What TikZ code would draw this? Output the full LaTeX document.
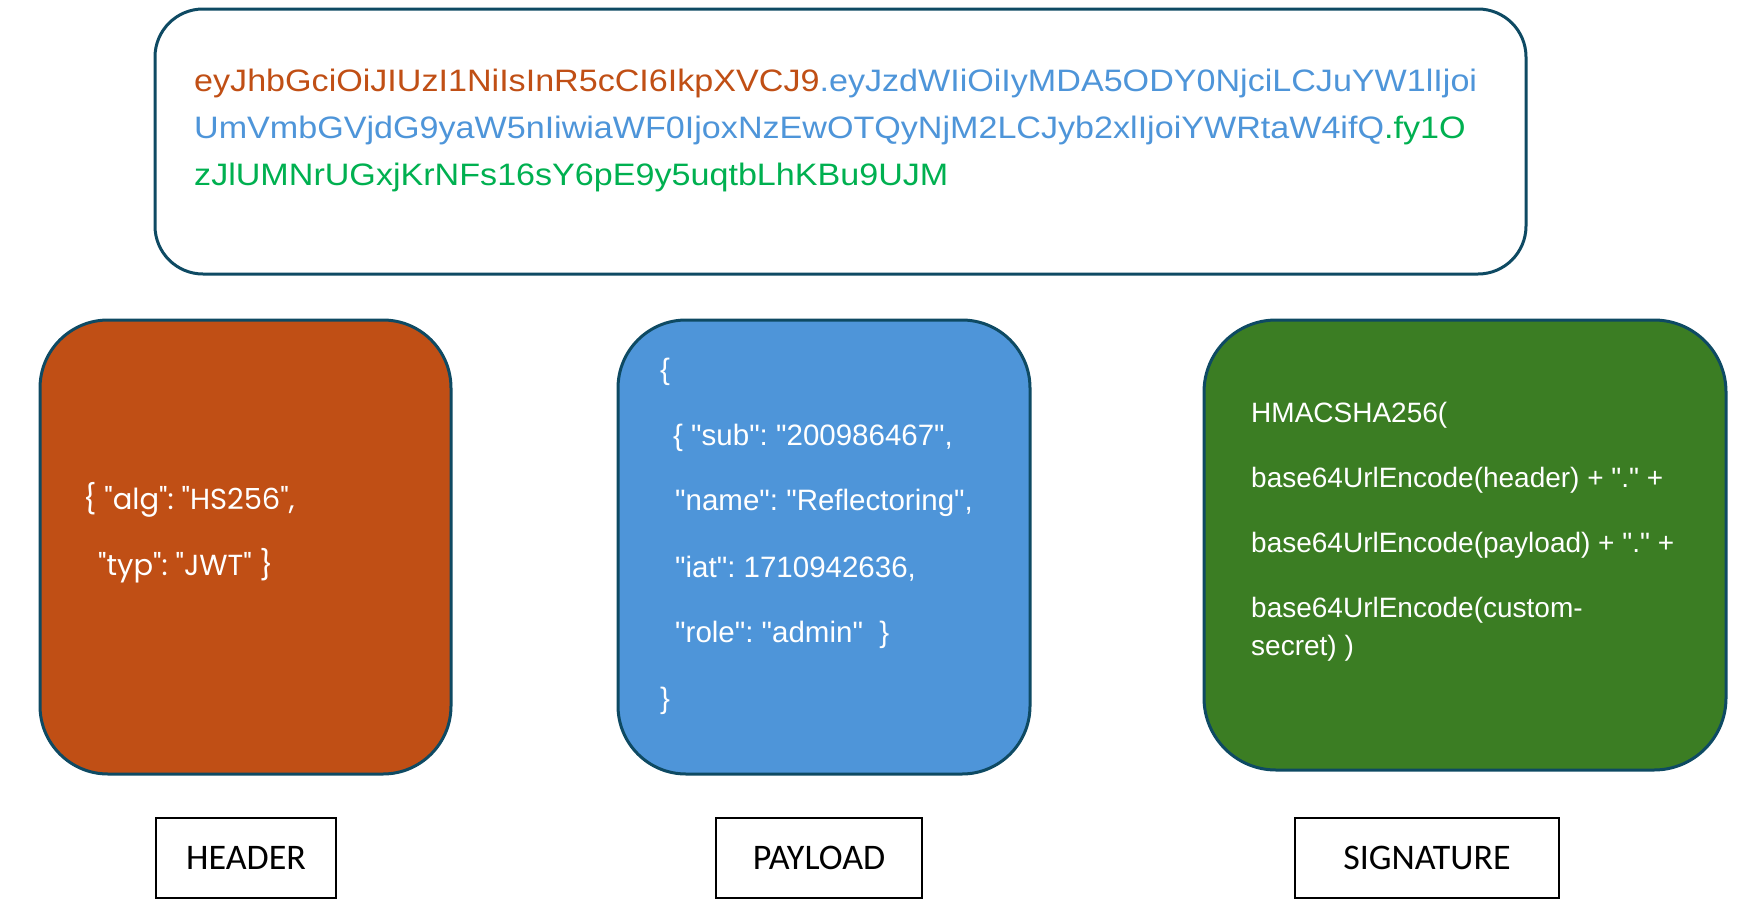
\documentclass[tikz,border=0pt]{standalone}
\usepackage{fontspec}
\setmainfont{Liberation Sans}[Ligatures=TeXOff]
\newfontfamily\labelfont{Carlito}
\newfontfamily\jsonfont{Poppins}
\newfontfamily\tokenfont{Liberation Sans}[FakeStretch=1.1]
\usetikzlibrary{positioning}
\frenchspacing

\definecolor{boxline}{HTML}{0E4A63}
\definecolor{hdrcol}{HTML}{C04F15}
\definecolor{paycol}{HTML}{4E95D9}
\definecolor{sigcol}{HTML}{3B7D23}
\definecolor{sigtext}{HTML}{00B050}

\tikzset{
  part/.style={draw=boxline, line width=3pt, inner sep=0pt},
  lbl/.style={draw=black, line width=1.5pt, inner sep=0pt,
              font=\labelfont\fontsize{36}{40}\selectfont},
  line/.style={anchor=base west, inner sep=0pt, text=white,
               font=\fontsize{29.5}{34}\selectfont},
  token/.style={anchor=base west, inner sep=0pt,
                font=\tokenfont\fontsize{31}{36}\selectfont},
}

\begin{document}
\begin{tikzpicture}[x=1pt,y=-1pt]
  \useasboundingbox (0,0) rectangle (1764,910);

  % encoded token
  \node[part, rounded corners=48pt, minimum width=1371pt, minimum height=265pt] (jwt) at (840.5,141.5) {};
  \node[token] (tok1) at (194,91)
    {\textcolor{hdrcol}{eyJhbGciOiJIUzI1NiIsInR5cCI6IkpXVCJ9}\textcolor{paycol}{.eyJzdWIiOiIyMDA5ODY0NjciLCJuYW1lIjoi}};
  \node[token] (tok2) at (194,138)
    {\textcolor{paycol}{UmVmbGVjdG9yaW5nIiwiaWF0IjoxNzEwOTQyNjM2LCJyb2xlIjoiYWRtaW4ifQ}\textcolor{sigtext}{.fy1O}};
  \node[token] (tok3) at (194,185)
    {\textcolor{sigtext}{zJlUMNrUGxjKrNFs16sY6pE9y5uqtbLhKBu9UJM}};

  % the three parts
  \node[part, fill=hdrcol, rounded corners=68pt, minimum width=411pt, minimum height=454pt] (header) at (245.5,547) {};
  \node[part, fill=paycol, rounded corners=68pt, minimum width=412pt, minimum height=454pt] (payload) at (824,547) {};
  \node[part, fill=sigcol, rounded corners=72pt, minimum width=522pt, minimum height=450pt] (signature) at (1465,545) {};

  % header json
  \node[line, font=\jsonfont\fontsize{29}{34}\selectfont] (alg) at (83,509) {\{ "alg": "HS256",};
  \node[line, font=\jsonfont\fontsize{29}{34}\selectfont] (typ) at (98,575) {"typ": "JWT" \}};

  % payload json
  \node[line] (popen) at (660,379) {\{};
  \node[line] (sub) at (673,445) {\{ "sub": "200986467",};
  \node[line] (name) at (675,510) {"name": "Reflectoring",};
  \node[line] (iat) at (675,577) {"iat": 1710942636,};
  \node[line] (role) at (675,642) {"role": "admin"\ \ \}};
  \node[line] (pclose) at (660,708) {\}};

  % signature formula
  \node[line, font=\fontsize{28}{34}\selectfont] (hmac) at (1251,422) {HMACSHA256(};
  \node[line, font=\fontsize{28}{34}\selectfont] (enchdr) at (1251,487) {base64UrlEncode(header) + "." +};
  \node[line, font=\fontsize{28}{34}\selectfont] (encpay) at (1251,552) {base64UrlEncode(payload) + "." +};
  \node[line, font=\fontsize{28}{34}\selectfont] (encsec) at (1251,617) {base64UrlEncode(custom-};
  \node[line, font=\fontsize{28}{34}\selectfont] (secret) at (1251,655) {secret) )};

  % captions
  \node[lbl, minimum width=180pt, minimum height=80pt] (headerlbl) at (246,858) {HEADER};
  \node[lbl, minimum width=206pt, minimum height=80pt] (payloadlbl) at (819,858) {PAYLOAD};
  \node[lbl, minimum width=264pt, minimum height=80pt] (signaturelbl) at (1427,858) {SIGNATURE\hspace{10pt}};
\end{tikzpicture}
\end{document}
